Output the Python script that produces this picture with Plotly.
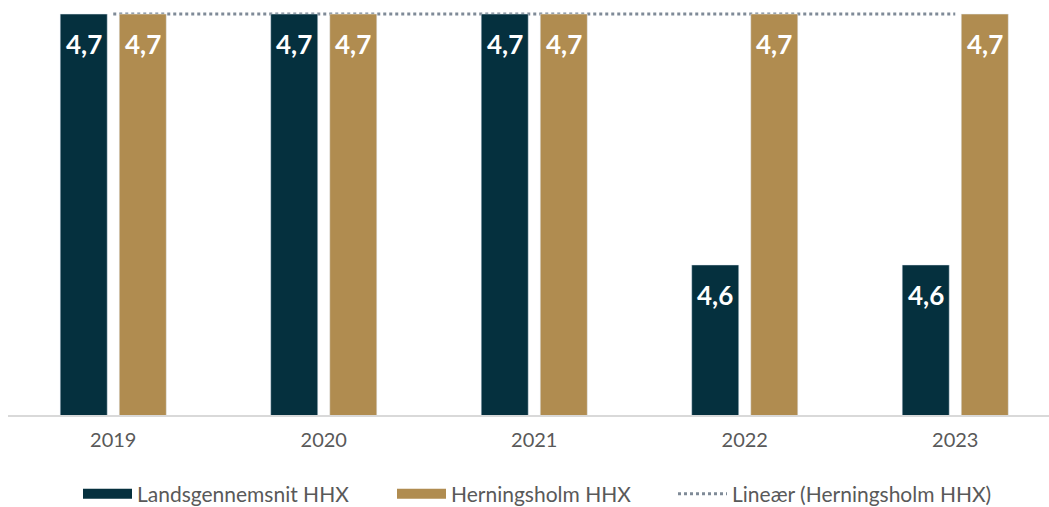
import numpy as np
import plotly.graph_objects as go

years = ["2019", "2020", "2021", "2022", "2023"]
landsgennemsnit = [4.7, 4.7, 4.7, 4.6, 4.6]
herningsholm = [4.7, 4.7, 4.7, 4.7, 4.7]

name_a = "Landsgennemsnit HHX"
name_b = "Herningsholm HHX"
name_t = "Lineær (Herningsholm HHX)"

col_a = "#05303E"
col_b = "#B08C50"
col_t = "#7F8A97"

FONT = "Lato"
xs = np.arange(len(years))

# linear trend of Herningsholm
slope, icpt = np.polyfit(xs, herningsholm, 1)
trend = slope * xs + icpt

bargap = 0.439
bargroupgap = 0.203
slot = (1 - bargap) / 2
offs = [-slot / 2, slot / 2]

W, H = 1049, 507

fig = go.Figure()

# trend line on base axes (drawn below the overlaid bars)
fig.add_trace(go.Scatter(
    x=xs, y=trend, mode="lines", name=name_t,
    line=dict(color=col_t, width=3, dash="dot"),
    xaxis="x", yaxis="y", showlegend=False, hoverinfo="skip"))

fig.add_trace(go.Bar(x=xs, y=landsgennemsnit, name=name_a, marker_color=col_a,
                     xaxis="x2", yaxis="y2", showlegend=False))
fig.add_trace(go.Bar(x=xs, y=herningsholm, name=name_b, marker_color=col_b,
                     xaxis="x2", yaxis="y2", showlegend=False))

# legend entries (one legend each, placed like the original)
fig.add_trace(go.Scatter(x=[None], y=[None], mode="lines", name=name_a,
                         line=dict(color=col_a, width=13), legend="legend"))
fig.add_trace(go.Scatter(x=[None], y=[None], mode="lines", name=name_b,
                         line=dict(color=col_b, width=13), legend="legend2"))
fig.add_trace(go.Scatter(x=[None], y=[None], mode="lines", name=name_t,
                         line=dict(color=col_t, width=3, dash="dot"), legend="legend3"))

def fmt(v):
    return f"{v:.1f}".replace(".", ",")

for series, off in ((landsgennemsnit, offs[0]), (herningsholm, offs[1])):
    for i, v in enumerate(series):
        fig.add_annotation(x=xs[i] + off, y=v, xref="x", yref="y",
                           text=f"<b>{fmt(v)}</b>", showarrow=False,
                           yshift=-30, yanchor="middle",
                           font=dict(family=FONT, size=26, color="white"))

xr = [-0.5, -0.5 + (W - 8) / 210.5]
yr = [4.5402, 4.704]

def leg(px):
    return dict(orientation="h", xref="container", yref="container",
                x=px / W, xanchor="left", y=1 - 494 / H, yanchor="middle",
                font=dict(family=FONT, size=21, color="#595959"),
                itemwidth=49, bgcolor="rgba(0,0,0,0)")

fig.update_layout(
    width=W, height=H,
    margin=dict(l=8, r=0, t=4, b=92, autoexpand=False),
    paper_bgcolor="white", plot_bgcolor="white",
    barmode="group", bargap=bargap, bargroupgap=bargroupgap,
    font=dict(family=FONT, color="#595959"),
    xaxis=dict(range=xr, tickvals=list(xs), ticktext=years, showgrid=False,
               zeroline=False, showline=True, linecolor="#D9D9D9", linewidth=1.5,
               ticks="", ticklabelstandoff=6,
               tickfont=dict(family=FONT, size=20, color="#595959")),
    yaxis=dict(range=yr, visible=False, showgrid=False, zeroline=False),
    xaxis2=dict(overlaying="x", matches="x", visible=False, range=xr),
    yaxis2=dict(overlaying="y", matches="y", visible=False, range=yr),
    legend=leg(78),
    legend2=leg(392),
    legend3=leg(673),
    showlegend=True,
)

fig.write_html("out.html", config={"displayModeBar": False},
               post_script="document.body.style.margin='0px';")
